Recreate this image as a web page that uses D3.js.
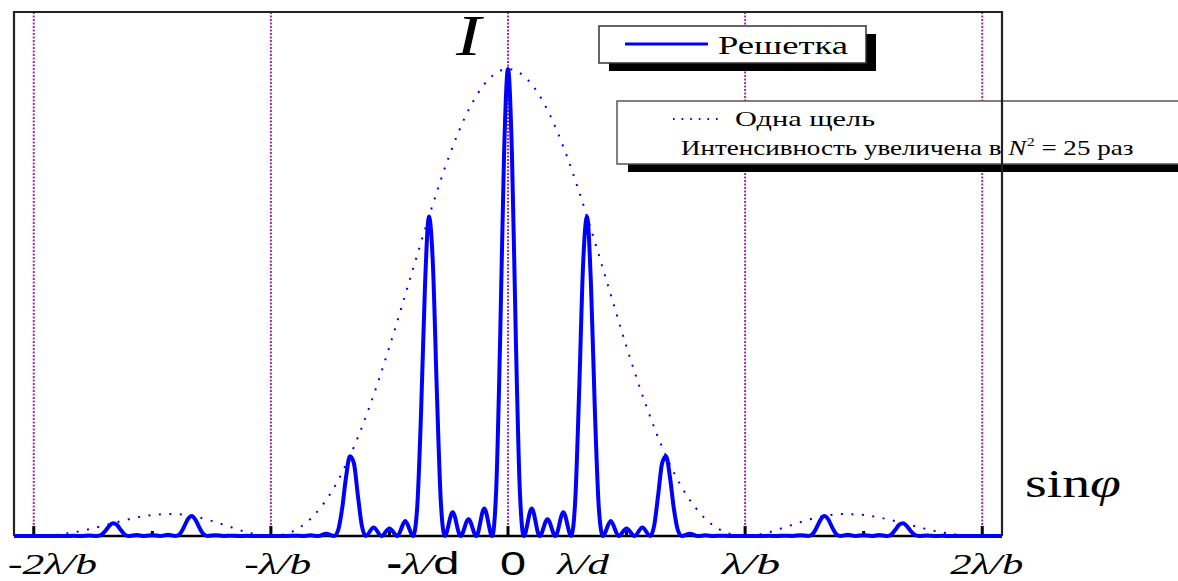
<!DOCTYPE html>
<html>
<head>
<meta charset="utf-8">
<script src="https://cdn.jsdelivr.net/npm/d3@7"></script>
<style>
    body { margin: 0; background: #fff; }
    svg { display: block; }
</style>
</head>
<body>
<div id="chart"></div>
<script>
// sin(phi) in units of lambda/d (d = 3b, so lambda/b = 3); intensity relative to the central maximum
const gratingLeft = [
    [-6.25, 0], [-5.6, 0], [-5.5, 0.0003], [-5.4, 0], [-5.3, 0.0009], [-5.2, 0],
    [-5.15, 0.002], [-5.1, 0.0096], [-5.05, 0.0206], [-5, 0.0274], [-4.95, 0.0242], [-4.9, 0.0133],
    [-4.85, 0.0033], [-4.8, 0], [-4.7, 0.0024], [-4.6, 0], [-4.5, 0.0018], [-4.4, 0], [-4.3, 0.0029],
    [-4.2, 0], [-4.15, 0.0045], [-4.1, 0.019], [-4.05, 0.0361], [-4, 0.0428], [-3.95, 0.0336],
    [-3.9, 0.0164], [-3.85, 0.0036], [-3.8, 0], [-3.7, 0.0018], [-3.6, 0], [-3.5, 0.0007], [-3.4, 0],
    [-3.3, 0.0005], [-3.2, 0], [-2.8, 0], [-2.7, 0.0007], [-2.6, 0], [-2.5, 0.0015], [-2.4, 0],
    [-2.3, 0.005], [-2.2, 0], [-2.15, 0.012], [-2.1, 0.057], [-2.05, 0.125], [-2, 0.171],
    [-1.95, 0.156], [-1.9, 0.088], [-1.85, 0.023], [-1.8, 0], [-1.7, 0.018], [-1.6, 0], [-1.5, 0.016],
    [-1.4, 0], [-1.3, 0.032], [-1.2, 0], [-1.15, 0.058], [-1.1, 0.264], [-1.05, 0.537], [-1, 0.684],
    [-0.95, 0.581], [-0.9, 0.309], [-0.85, 0.074], [-0.8, 0], [-0.7, 0.051], [-0.6, 0], [-0.5, 0.036],
    [-0.4, 0], [-0.3, 0.059], [-0.2, 0], [-0.15, 0.096], [-0.1, 0.417], [-0.05, 0.817]
];
const gratingRight = [
    [0, 1], [0.05, 0.817], [0.1, 0.417], [0.15, 0.096], [0.2, 0], [0.3, 0.059], [0.4, 0], [0.5, 0.036],
    [0.6, 0], [0.7, 0.051], [0.8, 0], [0.85, 0.074], [0.9, 0.309], [0.95, 0.581], [1, 0.684],
    [1.05, 0.537], [1.1, 0.264], [1.15, 0.058], [1.2, 0], [1.3, 0.032], [1.4, 0], [1.5, 0.016],
    [1.6, 0], [1.7, 0.018], [1.8, 0], [1.85, 0.023], [1.9, 0.088], [1.95, 0.156], [2, 0.171],
    [2.05, 0.125], [2.1, 0.057], [2.15, 0.012], [2.2, 0], [2.3, 0.005], [2.4, 0], [2.5, 0.0015],
    [2.6, 0], [2.7, 0.0007], [2.8, 0], [3.2, 0], [3.3, 0.0005], [3.4, 0], [3.5, 0.0007], [3.6, 0],
    [3.7, 0.0018], [3.8, 0], [3.85, 0.0036], [3.9, 0.0164], [3.95, 0.0336], [4, 0.0428],
    [4.05, 0.0361], [4.1, 0.019], [4.15, 0.0045], [4.2, 0], [4.3, 0.0029], [4.4, 0], [4.5, 0.0018],
    [4.6, 0], [4.7, 0.0024], [4.8, 0], [4.85, 0.0033], [4.9, 0.0133], [4.95, 0.0242], [5, 0.0274],
    [5.05, 0.0206], [5.1, 0.0096], [5.15, 0.002], [5.2, 0], [5.3, 0.0009], [5.4, 0], [5.5, 0.0003],
    [5.6, 0], [6.25, 0]
];

// single slit envelope (already scaled by N^2)
const envelope = [
    [-6.25, 0.0016], [-6, 0], [-5.75, 0.0019], [-5.5, 0.0075], [-5.25, 0.0165], [-5, 0.0274],
    [-4.75, 0.0377], [-4.5, 0.045], [-4.25, 0.0471], [-4, 0.0428], [-3.75, 0.0324], [-3.5, 0.0186],
    [-3.25, 0.0058], [-3, 0], [-2.75, 0.0081], [-2.5, 0.0365], [-2.25, 0.09], [-2, 0.171],
    [-1.75, 0.278], [-1.5, 0.405], [-1.25, 0.545], [-1, 0.684], [-0.75, 0.811], [-0.5, 0.912],
    [-0.25, 0.977], [0, 1], [0.25, 0.977], [0.5, 0.912], [0.75, 0.811], [1, 0.684], [1.25, 0.545],
    [1.5, 0.405], [1.75, 0.278], [2, 0.171], [2.25, 0.09], [2.5, 0.0365], [2.75, 0.0081], [3, 0],
    [3.25, 0.0058], [3.5, 0.0186], [3.75, 0.0324], [4, 0.0428], [4.25, 0.0471], [4.5, 0.045],
    [4.75, 0.0377], [5, 0.0274], [5.25, 0.0165], [5.5, 0.0075], [5.75, 0.0019], [6, 0], [6.25, 0.0016]
];

const xTicks = [-6, -4.5, -3, -1.5, 0, 1.5, 3, 4.5, 6];
const guideLines = [-6, -3, 0, 3, 6];
const labelValues = [-6, -3, -1, 0, 1, 3, 6];
const labelTexts = ['-2λ/b', '-λ/b', '-λ/d', '0', 'λ/d', 'λ/b', '2λ/b'];
const legendGrating = 'Решетка';
const legendSlit = 'Одна щель';
const legendNote = ['Интенсивность увеличена в ', 'N', '2', ' = 25 раз'];

const W = 1178, H = 581;
const SERIF = '"Liberation Serif", "Times New Roman", serif';
const SANS = '"Liberation Sans", Arial, sans-serif';
const BLUE = '#0000ff';

const svg = d3.select('#chart').append('svg')
    .attr('width', W)
    .attr('height', H);

svg.append('rect').attr('width', W).attr('height', H).attr('fill', '#fff');

const x = d3.scaleLinear().domain([-6.25, 6.25]).range([14, 1002]);
const y = d3.scaleLinear().domain([0, 1]).range([536, 69]);

// stretch a text element horizontally so it fills [x0, x0 + width]
function fit(text, x0, yBase, width) {
    const w = text.node().getComputedTextLength();
    text.attr('transform', `translate(${x0},${yBase}) scale(${width / w},1)`);
}

// guide lines at multiples of lambda/b
svg.selectAll('.guide')
    .data(guideLines)
    .enter()
    .append('line')
    .attr('class', 'guide')
    .attr('x1', d => x(d)).attr('x2', d => x(d))
    .attr('y1', 12).attr('y2', 527)
    .attr('stroke', '#a32ca3')
    .attr('stroke-width', 2)
    .attr('stroke-dasharray', '2,1.5');

// ticks
svg.selectAll('.tick')
    .data(xTicks)
    .enter()
    .append('line')
    .attr('x1', d => x(d)).attr('x2', d => x(d))
    .attr('y1', d => (d % 3 === 0 ? 526 : 531))
    .attr('y2', 536)
    .attr('stroke', '#000')
    .attr('stroke-width', 3);

// axis line
svg.append('line')
    .attr('x1', x.range()[0]).attr('x2', x.range()[1])
    .attr('y1', y(0)).attr('y2', y(0))
    .attr('stroke', '#000')
    .attr('stroke-width', 2.5);

const line = d3.line()
    .x(d => x(d[0]))
    .y(d => y(d[1]))
    .curve(d3.curveMonotoneX);

svg.append('path')
    .datum(envelope)
    .attr('d', line)
    .attr('fill', 'none')
    .attr('stroke', BLUE)
    .attr('stroke-width', 2)
    .attr('stroke-dasharray', '2,8.5');

svg.append('path')
    .datum(gratingLeft.concat(gratingRight))
    .attr('d', line)
    .attr('fill', 'none')
    .attr('stroke', BLUE)
    .attr('stroke-width', 4)
    .attr('stroke-linejoin', 'round');

// legend: grating
svg.append('rect')
    .attr('x', 609).attr('y', 34).attr('width', 267).attr('height', 37)
    .attr('fill', '#000');
svg.append('rect')
    .attr('x', 599).attr('y', 26).attr('width', 267).attr('height', 37)
    .attr('fill', '#fff').attr('stroke', '#333').attr('stroke-width', 1.5);
svg.append('line')
    .attr('x1', 625).attr('x2', 708).attr('y1', 44).attr('y2', 44)
    .attr('stroke', BLUE).attr('stroke-width', 3);
const lg1 = svg.append('text')
    .attr('font-family', SERIF).attr('font-size', 26)
    .text(legendGrating);
fit(lg1, 718, 54, 130);

// legend: single slit
svg.append('rect')
    .attr('x', 628).attr('y', 109).attr('width', 600).attr('height', 63)
    .attr('fill', '#000');
svg.append('rect')
    .attr('x', 617).attr('y', 101).attr('width', 600).attr('height', 63)
    .attr('fill', '#fff').attr('stroke', '#555').attr('stroke-width', 1.5);
svg.append('line')
    .attr('x1', 673).attr('x2', 724).attr('y1', 119).attr('y2', 119)
    .attr('stroke', BLUE).attr('stroke-width', 2)
    .attr('stroke-dasharray', '1.6,7');
const lg2 = svg.append('text')
    .attr('font-family', SERIF).attr('font-size', 21)
    .text(legendSlit);
fit(lg2, 735, 126, 140);

const lg3 = svg.append('text')
    .attr('font-family', SERIF).attr('font-size', 21);
lg3.append('tspan').text(legendNote[0]);
lg3.append('tspan').attr('font-style', 'italic').text(legendNote[1]);
lg3.append('tspan').attr('font-size', 12).attr('dy', -9).attr('dx', 0.5).text(legendNote[2]);
lg3.append('tspan').attr('dy', 9).text(legendNote[3]);
fit(lg3, 681, 155, 452);

// frame
svg.append('path')
    .attr('d', `M${x.range()[0]},${y(0)}V12H${x.range()[1]}V${y(0)}`)
    .attr('fill', 'none')
    .attr('stroke', '#222')
    .attr('stroke-width', 2.2);

// tick labels
const labelLayout = [
    { dx: -25.8, width: 89 },
    { dx: -26.6, width: 67 },
    { dx: -42.5, width: 73 },
    { dx: -8, width: 26 },
    { dx: -30, width: 52 },
    { dx: -23, width: 58 },
    { dx: -32, width: 73 }
];

labelTexts.forEach((label, i) => {
    const t = svg.append('text')
        .attr('font-size', 29)
        .attr('font-family', SERIF)
        .attr('font-style', 'italic');
    if (label === '0') {
        t.attr('font-family', SANS).attr('font-style', 'normal').attr('font-size', 34).text(label);
    } else if (label === '-λ/d') {
        for (const ch of label) {
            const s = t.append('tspan').text(ch);
            if (ch === '-' || ch === 'd') {
                s.attr('font-family', SANS).attr('font-style', 'normal').attr('font-size', 31);
                if (ch === '-') s.attr('font-weight', 'bold');
            }
        }
    } else {
        t.text(label);
    }
    const l = labelLayout[i];
    fit(t, x(labelValues[i]) + l.dx, label === '0' ? 575 : 574, l.width);
});

// axis names
const axisY = svg.append('text')
    .attr('font-family', SERIF).attr('font-style', 'italic').attr('font-size', 56)
    .text('I');
fit(axisY, 456, 55, 25);

const axisX = svg.append('text')
    .attr('font-family', SERIF).attr('font-size', 40);
axisX.append('tspan').text('sin');
axisX.append('tspan').attr('font-style', 'italic').text('φ');
fit(axisX, 1025, 497, 96);
</script>
</body>
</html>
